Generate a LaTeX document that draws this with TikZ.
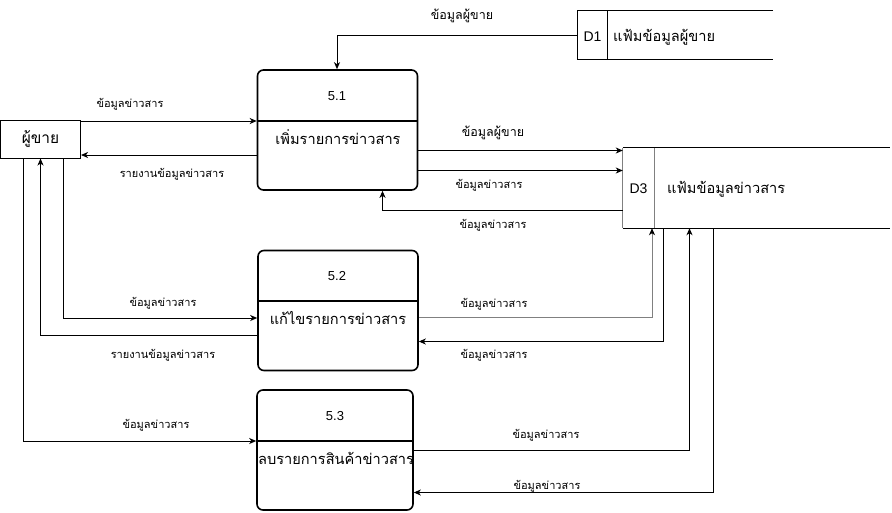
\documentclass[tikz,border=0pt]{standalone}
\usepackage{fontspec}
\setmainfont{Liberation Sans}
\newfontfamily\thai[Script=Thai]{Loma}
\usetikzlibrary{arrows.meta,calc}

\begin{document}
\begin{tikzpicture}[x=1pt,y=-1pt,
  flow/.style={draw=black,line width=1pt,
    -{Stealth[length=7pt,width=6pt,inset=2pt,black]}},
  proc/.style={draw=black,line width=1.6pt,rounded corners=6pt,
    minimum width=#1,minimum height=120pt,inner sep=0pt},
  proc/.default=160pt,
  ent/.style={draw=black,line width=1pt,minimum width=80pt,
    minimum height=38pt,inner sep=0pt},
  lbl/.style={font=\thai\fontsize{11}{13}\selectfont,inner sep=0pt},
  lblb/.style={font=\thai\fontsize{12.5}{14}\selectfont,inner sep=0pt},
  ptitle/.style={font=\thai\fontsize{14.6}{16}\selectfont,inner sep=0pt},
  pnum/.style={font=\fontsize{13}{15}\selectfont,inner sep=0pt},
]
\useasboundingbox[fill=white] (0,0) rectangle (892,512);

% external entity
\node[ent,font=\thai\fontsize{15.5}{18}\selectfont] (seller) at (40.5,139) {ผู้ขาย};

% processes
\node[proc] (p1) at (337.5,130) {};
\node[proc] (p2) at (338,310.5) {};
\node[proc=156pt] (p3) at (335,450) {};
\draw[line width=1.6pt] (p1.west |- 0,121) -- (p1.east |- 0,121);
\draw[line width=1.6pt] (p2.west |- 0,301) -- (p2.east |- 0,301);
\draw[line width=1.6pt] (p3.west |- 0,441) -- (p3.east |- 0,441);
\node[pnum] (n1) at (337,96) {5.1};
\node[pnum] (n2) at (337,276) {5.2};
\node[pnum] (n3) at (335,416) {5.3};
\node[ptitle] (t1) at (338,137) {เพิ่มรายการข่าวสาร};
\node[ptitle] (t2) at (338,318) {แก้ไขรายการข่าวสาร};
\node[ptitle] (t3) at (336,458) {ลบรายการสินค้าข่าวสาร};

% data stores
\node[minimum width=195pt,minimum height=49pt,inner sep=0pt] (d1) at (675.5,35) {};
\draw[line width=1pt] (d1.north east) -- (d1.north west) -- (d1.south west) -- (d1.south east);
\draw[line width=1pt] (d1.north -| 607.5,0) -- (d1.south -| 607.5,0);
\node[pnum,font=\fontsize{14}{16}\selectfont] (d1id) at (592.5,37) {D1};
\node[ptitle,anchor=west] (d1name) at (613,37) {แฟ้มข้อมูลผู้ขาย};

\node[minimum width=267pt,minimum height=80pt,inner sep=0pt] (d3) at (756.5,188) {};
\draw[line width=1pt] (d3.north west) -- (d3.north east);
\draw[line width=1pt] (d3.south west) -- (d3.south east);
\draw[line width=1pt,draw=gray] (d3.north west) -- (d3.south west);
\draw[line width=1pt,draw=gray] (d3.north -| 654,0) -- (d3.south -| 654,0);
\node[pnum,font=\fontsize{14}{16}\selectfont] (d3id) at (638.5,189) {D3};
\node[ptitle,anchor=west] (d3name) at (667,189) {แฟ้มข้อมูลข่าวสาร};

% data flows around 5.1
\draw[flow] (d1.west) -| (p1.north -| 337,0);
\draw[flow] (seller.east |- 0,121) -- (p1.west |- 0,121);
\draw[flow] (p1.west |- 0,155) -- (seller.east |- 0,155);
\draw[flow] (p1.east |- 0,150.5) -- (d3.west |- 0,150.5);
\draw[flow] (p1.east |- 0,170.5) -- (d3.west |- 0,170.5);
\draw[flow] (d3.west |- 0,210) -| (p1.south -| 382.5,0);

% data flows around 5.2
\draw[flow] (seller.south -| 63,0) |- (p2.west |- 0,318);
\draw[flow] (p2.west |- 0,335) -| (seller.south -| 40.5,0);
\draw[flow,draw=gray] (p2.east |- 0,317.5) -| (d3.south -| 652,0);
\draw[flow] (d3.south -| 663,0) |- (p2.east |- 0,341.5);

% data flows around 5.3
\draw[flow] (seller.south -| 23,0) |- (p3.west |- 0,441);
\draw[flow] (p3.east |- 0,450) -| (d3.south -| 689.5,0);
\draw[flow] (d3.south -| 713.5,0) |- (p3.east |- 0,492.5);

% flow labels
\node[lblb] (l1) at (462,16) {ข้อมูลผู้ขาย};
\node[lbl] (l2) at (130,104) {ข้อมูลข่าวสาร};
\node[lbl] (l3) at (172,174) {รายงานข้อมูลข่าวสาร};
\node[lblb] (l4) at (493,133) {ข้อมูลผู้ขาย};
\node[lbl] (l5) at (489,185) {ข้อมูลข่าวสาร};
\node[lbl] (l6) at (493,225) {ข้อมูลข่าวสาร};
\node[lbl] (l7) at (163,303) {ข้อมูลข่าวสาร};
\node[lbl] (l8) at (163,355) {รายงานข้อมูลข่าวสาร};
\node[lbl] (l9) at (494,304) {ข้อมูลข่าวสาร};
\node[lbl] (l10) at (494,355) {ข้อมูลข่าวสาร};
\node[lbl] (l11) at (156,425) {ข้อมูลข่าวสาร};
\node[lbl] (l12) at (546,435) {ข้อมูลข่าวสาร};
\node[lbl] (l13) at (547,486) {ข้อมูลข่าวสาร};
\end{tikzpicture}
\end{document}
